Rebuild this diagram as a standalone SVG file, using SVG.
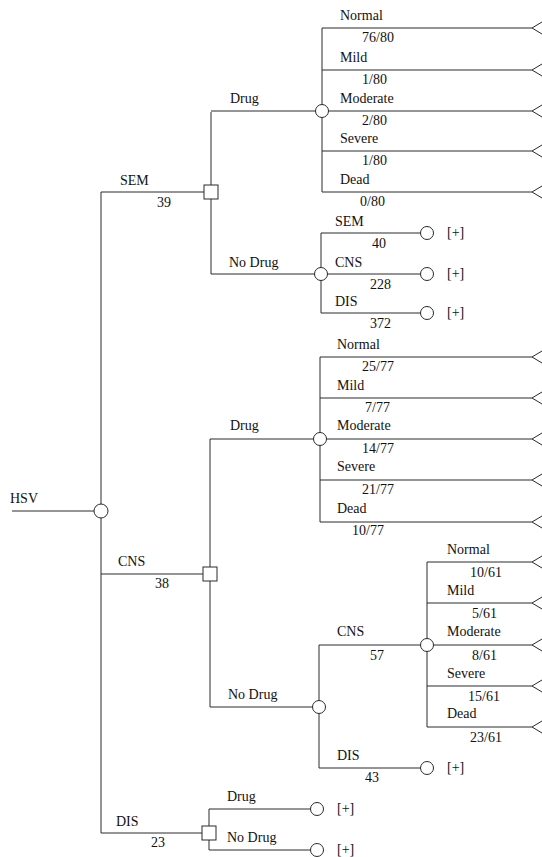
<svg xmlns="http://www.w3.org/2000/svg" xmlns:xlink="http://www.w3.org/1999/xlink" width="542" height="857" viewBox="0 0 542 857">
<style>
.ln{stroke:#2a2a2a;stroke-width:1;fill:none}
.ch{fill:#fff;stroke:#2a2a2a;stroke-width:1}
.dc{fill:#fff;stroke:#2a2a2a;stroke-width:1}
.tm{fill:none;stroke:#2a2a2a;stroke-width:1}
.t{font-family:'Liberation Serif','Times New Roman','DejaVu Serif',serif;font-size:14px;fill:#111}
</style>
<defs>
<path id="term" d="M10,-6 L0,0 L10,6" class="tm"/>
</defs>
<rect width="542" height="857" fill="#fff"/>
<g id="connectors">
<path class="ln" d="M12,511 H94"/>
<path class="ln" d="M101,192 V833"/>
<path class="ln" d="M101,192 H204"/>
<path class="ln" d="M211,112 V274"/>
<path class="ln" d="M211,111 H322"/>
<path class="ln" d="M322,28 V192"/>
<path class="ln" d="M322,28 H532 M322,70 H532 M322,111 H532 M322,151 H532 M322,192 H532"/>
<path class="ln" d="M211,274 H321"/>
<path class="ln" d="M321,233 V313"/>
<path class="ln" d="M321,233 H421 M321,274 H421 M321,313 H421"/>
<path class="ln" d="M101,574 H203"/>
<path class="ln" d="M210,439 V707"/>
<path class="ln" d="M210,439 H320"/>
<path class="ln" d="M320,357 V522"/>
<path class="ln" d="M320,357 H532 M320,398 H532 M320,439 H532 M320,480 H532 M320,522 H532"/>
<path class="ln" d="M210,707 H319"/>
<path class="ln" d="M319,645 V768"/>
<path class="ln" d="M319,645 H427"/>
<path class="ln" d="M427,562 V727"/>
<path class="ln" d="M427,562 H532 M427,603 H532 M427,645 H532 M427,686 H532 M427,727 H532"/>
<path class="ln" d="M319,768 H421"/>
<path class="ln" d="M101,833 H202"/>
<path class="ln" d="M209,809 V850"/>
<path class="ln" d="M209,809 H311 M209,850 H311"/>
</g>
<g class="t" font-family="Liberation Serif, Times New Roman, DejaVu Serif, serif" font-size="14">
<g id="root">
<text x="10" y="503">HSV</text>
<circle class="ch" cx="101" cy="511" r="7"/>
</g>
<g id="sem">
<text x="120" y="185">SEM</text>
<text x="157" y="207">39</text>
<rect class="dc" x="204" y="185" width="14" height="14"/>
</g>
<g id="sem-drug">
<text x="230" y="103">Drug</text>
<circle class="ch" cx="322" cy="111" r="6.5"/>
<text x="340" y="20">Normal</text><text x="362" y="42">76/80</text>
<text x="340" y="62">Mild</text><text x="362" y="84">1/80</text>
<text x="340" y="103">Moderate</text><text x="362" y="125">2/80</text>
<text x="340" y="143">Severe</text><text x="362" y="165">1/80</text>
<text x="340" y="184">Dead</text><text x="360" y="206">0/80</text>
<use xlink:href="#term" x="532" y="28"/>
<use xlink:href="#term" x="532" y="70"/>
<use xlink:href="#term" x="532" y="111"/>
<use xlink:href="#term" x="532" y="151"/>
<use xlink:href="#term" x="532" y="192"/>
</g>
<g id="sem-nodrug">
<text x="229" y="267">No Drug</text>
<circle class="ch" cx="321" cy="274" r="6.5"/>
<text x="335" y="226">SEM</text><text x="372" y="248">40</text>
<text x="335" y="267">CNS</text><text x="370" y="289">228</text>
<text x="335" y="306">DIS</text><text x="370" y="328">372</text>
<circle class="ch" cx="427" cy="233" r="6.5"/><text x="447" y="237">[+]</text>
<circle class="ch" cx="427" cy="274" r="6.5"/><text x="447" y="278">[+]</text>
<circle class="ch" cx="427" cy="313" r="6.5"/><text x="447" y="317">[+]</text>
</g>
<g id="cns">
<text x="118" y="566">CNS</text>
<text x="155" y="588">38</text>
<rect class="dc" x="203" y="567" width="14" height="14"/>
</g>
<g id="cns-drug">
<text x="230" y="430">Drug</text>
<circle class="ch" cx="320" cy="439" r="6.5"/>
<text x="337" y="349">Normal</text><text x="362" y="371">25/77</text>
<text x="337" y="390">Mild</text><text x="365" y="412">7/77</text>
<text x="337" y="430">Moderate</text><text x="362" y="453">14/77</text>
<text x="337" y="471">Severe</text><text x="362" y="494">21/77</text>
<text x="337" y="513">Dead</text><text x="352" y="535">10/77</text>
<use xlink:href="#term" x="532" y="357"/>
<use xlink:href="#term" x="532" y="398"/>
<use xlink:href="#term" x="532" y="439"/>
<use xlink:href="#term" x="532" y="480"/>
<use xlink:href="#term" x="532" y="522"/>
</g>
<g id="cns-nodrug">
<text x="228" y="699">No Drug</text>
<circle class="ch" cx="319" cy="707" r="6.5"/>
</g>
<g id="cns-nodrug-cns">
<text x="337" y="636">CNS</text>
<text x="370" y="660">57</text>
<circle class="ch" cx="427" cy="645" r="6.5"/>
<text x="447" y="554">Normal</text><text x="470" y="577">10/61</text>
<text x="447" y="595">Mild</text><text x="472" y="618">5/61</text>
<text x="447" y="636">Moderate</text><text x="472" y="660">8/61</text>
<text x="447" y="678">Severe</text><text x="468" y="701">15/61</text>
<text x="447" y="718">Dead</text><text x="470" y="742">23/61</text>
<use xlink:href="#term" x="532" y="562"/>
<use xlink:href="#term" x="532" y="603"/>
<use xlink:href="#term" x="532" y="645"/>
<use xlink:href="#term" x="532" y="686"/>
<use xlink:href="#term" x="532" y="727"/>
</g>
<g id="cns-nodrug-dis">
<text x="337" y="760">DIS</text>
<text x="365" y="782">43</text>
<circle class="ch" cx="427" cy="768" r="6.5"/><text x="447" y="772">[+]</text>
</g>
<g id="dis">
<text x="116" y="826">DIS</text>
<text x="151" y="847">23</text>
<rect class="dc" x="202" y="826" width="14" height="14"/>
</g>
<g id="dis-drug">
<text x="227" y="801">Drug</text>
<circle class="ch" cx="317" cy="809" r="6.5"/><text x="337" y="813">[+]</text>
</g>
<g id="dis-nodrug">
<text x="227" y="842">No Drug</text>
<circle class="ch" cx="317" cy="850" r="6.5"/><text x="337" y="854">[+]</text>
</g>
</g>
</svg>
